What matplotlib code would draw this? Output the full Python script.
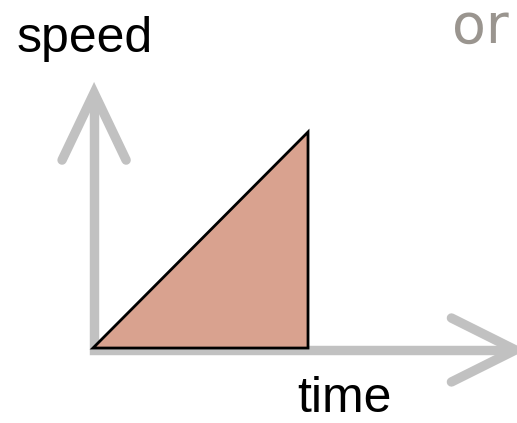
import matplotlib
matplotlib.use("Agg")
import matplotlib.pyplot as plt
from matplotlib.patches import Polygon

# Constant acceleration: speed grows linearly from 0 to its final value
time = [0.0, 1.0, 1.0]
speed = [0.0, 1.0, 0.0]

x_label = "time"
y_label = "speed"
aside = "or"

W, H, DPI = 517, 423, 100
fig = plt.figure(figsize=(W / DPI, H / DPI), dpi=DPI)
ax = fig.add_axes([0, 0, 1, 1])
ax.set_xlim(-0.4326, 1.972)
ax.set_ylim(-0.347, 1.611)
ax.axis("off")

axis_gray = "#c1c1c1"
lw = 6.8
ox, oy = 0.005, -0.009  # axis lines sit just under/right of the origin

# axis shafts
ax.plot([ox, ox, 1.95], [1.16, oy, oy], color=axis_gray, lw=lw,
        solid_joinstyle="miter", solid_capstyle="butt", zorder=1)

# arrow heads
ax.plot([ox - 0.149, ox, ox + 0.149], [0.87, 1.181, 0.87], color=axis_gray,
        lw=lw, solid_joinstyle="miter", solid_capstyle="round", zorder=1)
ax.plot([1.667, 1.965, 1.667], [oy + 0.148, oy, oy - 0.148], color=axis_gray,
        lw=lw, solid_joinstyle="miter", solid_capstyle="round", zorder=1)

# area under the speed curve
tri = Polygon(list(zip(time, speed)), closed=True, facecolor="#d9a28f",
              edgecolor="black", lw=2.0, joinstyle="miter", zorder=3)
ax.add_patch(tri)

fig.text(17 / W, 1 - 52 / H, y_label, fontsize=36, family="Liberation Sans",
         color="black", ha="left", va="baseline")
fig.text(297 / W, 1 - 412 / H, x_label, fontsize=36, family="Liberation Sans",
         color="black", ha="left", va="baseline")
fig.text(452 / W, 1 - 43 / H, aside, fontsize=40, family="DejaVu Sans",
         color="#9a958f", ha="left", va="baseline")

fig.savefig("out.png", dpi=DPI, facecolor="white")
